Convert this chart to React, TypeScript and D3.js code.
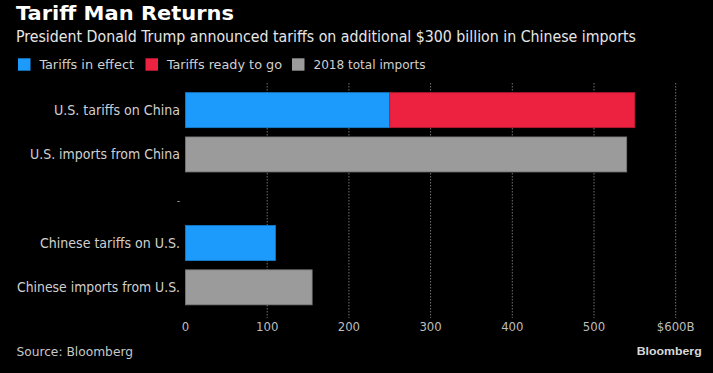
import React, { useEffect, useRef } from 'react';
import * as d3 from 'd3';

const categories = ['U.S. tariffs on China', 'U.S. imports from China', '-', 'Chinese tariffs on U.S.', 'Chinese imports from U.S.'];
const tariffsInEffect = [250, 0, 0, 110, 0];
const tariffsReady = [300, 0, 0, 0, 0];
const totalImports = [0, 540, 0, 0, 155];
const xTicks = [0, 100, 200, 300, 400, 500, 600];
const legendLabels = ['Tariffs in effect', 'Tariffs ready to go', '2018 total imports'];

const colors = ['#1c9bfd', '#ec2240', '#9b9b9b'];
const strokes = ['#1580d0', '#b81a33', '#7a7a7a'];
const font = '"DejaVu Sans Condensed", "Liberation Sans Narrow", "Liberation Sans", sans-serif';
const titleFont = '"DejaVu Sans", "Liberation Sans", sans-serif';

// measured widths so the text lines up with the picture
const legendWidths = [94.5, 115, 112];
const catWidths: Record<string, number> = {
  'U.S. tariffs on China': 126,
  'U.S. imports from China': 150,
  'Chinese tariffs on U.S.': 140,
  'Chinese imports from U.S.': 163,
};

export default function App() {
  const ref = useRef<SVGSVGElement>(null);

  useEffect(() => {
    const width = 713;
    const height = 373;
    const svg = d3.select(ref.current);
    svg.selectAll('*').remove();

    svg.append('rect').attr('width', width).attr('height', height).attr('fill', '#000');

    // titles
    svg.append('text')
      .attr('x', 16).attr('y', 20)
      .attr('fill', '#fff').attr('font-family', titleFont)
      .attr('font-weight', 'bold').attr('font-size', 20)
      .attr('textLength', 218).attr('lengthAdjust', 'spacingAndGlyphs')
      .text('Tariff Man Returns');
    svg.append('text')
      .attr('x', 16).attr('y', 41.7)
      .attr('fill', '#e6e6e6').attr('font-family', font)
      .attr('font-size', 15)
      .attr('textLength', 620).attr('lengthAdjust', 'spacingAndGlyphs')
      .text('President Donald Trump announced tariffs on additional $300 billion in Chinese imports');

    // legend
    const legendX = [18, 145.5, 292];
    legendLabels.forEach((label, i) => {
      svg.append('rect')
        .attr('x', legendX[i]).attr('y', 58.3)
        .attr('width', 12.5).attr('height', 12.4)
        .attr('fill', colors[i]);
      svg.append('text')
        .attr('x', legendX[i] + 21.5).attr('y', 68.5)
        .attr('fill', '#d0d0d0').attr('font-family', font)
        .attr('font-size', 13)
        .attr('textLength', legendWidths[i]).attr('lengthAdjust', 'spacingAndGlyphs')
        .text(label);
    });

    const x = d3.scaleLinear().domain([0, 600]).range([185.5, 675.7]);
    const y = d3.scaleBand()
      .domain(categories)
      .range([88, 309.5])
      .paddingInner(0.21)
      .paddingOuter(0.105);

    // gridlines
    svg.append('g')
      .selectAll('line')
      .data(xTicks.filter(d => d > 0))
      .join('line')
      .attr('x1', d => x(d)).attr('x2', d => x(d))
      .attr('y1', 83).attr('y2', 318)
      .attr('stroke', '#707070')
      .attr('stroke-width', 1)
      .attr('stroke-dasharray', '1.5,1.5');

    // tick labels
    svg.append('g')
      .selectAll('text')
      .data(xTicks)
      .join('text')
      .attr('x', d => x(d)).attr('y', 330.7)
      .attr('text-anchor', 'middle')
      .attr('fill', '#bdbdbd').attr('font-family', font)
      .attr('font-size', 13)
      .text(d => (d === 600 ? '$600B' : String(d)));

    // bars
    const rows = categories.map((c, i) => ({
      cat: c,
      effect: tariffsInEffect[i],
      ready: tariffsReady[i],
      imports: totalImports[i],
    }));
    const stack = d3.stack<any>().keys(['effect', 'ready', 'imports']);
    const series = stack(rows);

    series.forEach((s, si) => {
      svg.append('g')
        .selectAll('rect')
        .data(s.filter(d => d[1] - d[0] > 0))
        .join('rect')
        .attr('x', d => x(d[0]))
        .attr('y', d => y(d.data.cat) as number)
        .attr('width', d => x(d[1]) - x(d[0]))
        .attr('height', y.bandwidth())
        .attr('fill', colors[si])
        .attr('stroke', strokes[si])
        .attr('stroke-width', 0.8);
    });

    // category labels
    const labels = svg.append('g')
      .selectAll('text')
      .data(categories)
      .join('text')
      .attr('x', 180)
      .attr('y', d => (y(d) as number) + y.bandwidth() / 2 + 5)
      .attr('text-anchor', 'end')
      .attr('fill', '#d0d0d0').attr('font-family', font)
      .attr('font-size', d => (d === '-' ? 9 : 14))
      .text(d => d);
    labels.filter(d => catWidths[d] !== undefined)
      .attr('textLength', d => catWidths[d])
      .attr('lengthAdjust', 'spacingAndGlyphs');

    // footer
    svg.append('text')
      .attr('x', 16.4).attr('y', 355.7)
      .attr('fill', '#c8c8c8').attr('font-family', font)
      .attr('font-size', 13)
      .attr('textLength', 116.6).attr('lengthAdjust', 'spacingAndGlyphs')
      .text('Source: Bloomberg');
    svg.append('text')
      .attr('x', 636.7).attr('y', 354.5)
      .attr('fill', '#d8d8d8').attr('font-family', '"Liberation Sans", Arial, sans-serif')
      .attr('font-weight', 'bold').attr('font-size', 11.5)
      .attr('textLength', 65).attr('lengthAdjust', 'spacingAndGlyphs')
      .text('Bloomberg');
  }, []);

  return (
    <svg
      ref={ref}
      width={713}
      height={373}
      style={{ position: 'absolute', left: 0, top: 0, display: 'block' }}
    />
  );
}
